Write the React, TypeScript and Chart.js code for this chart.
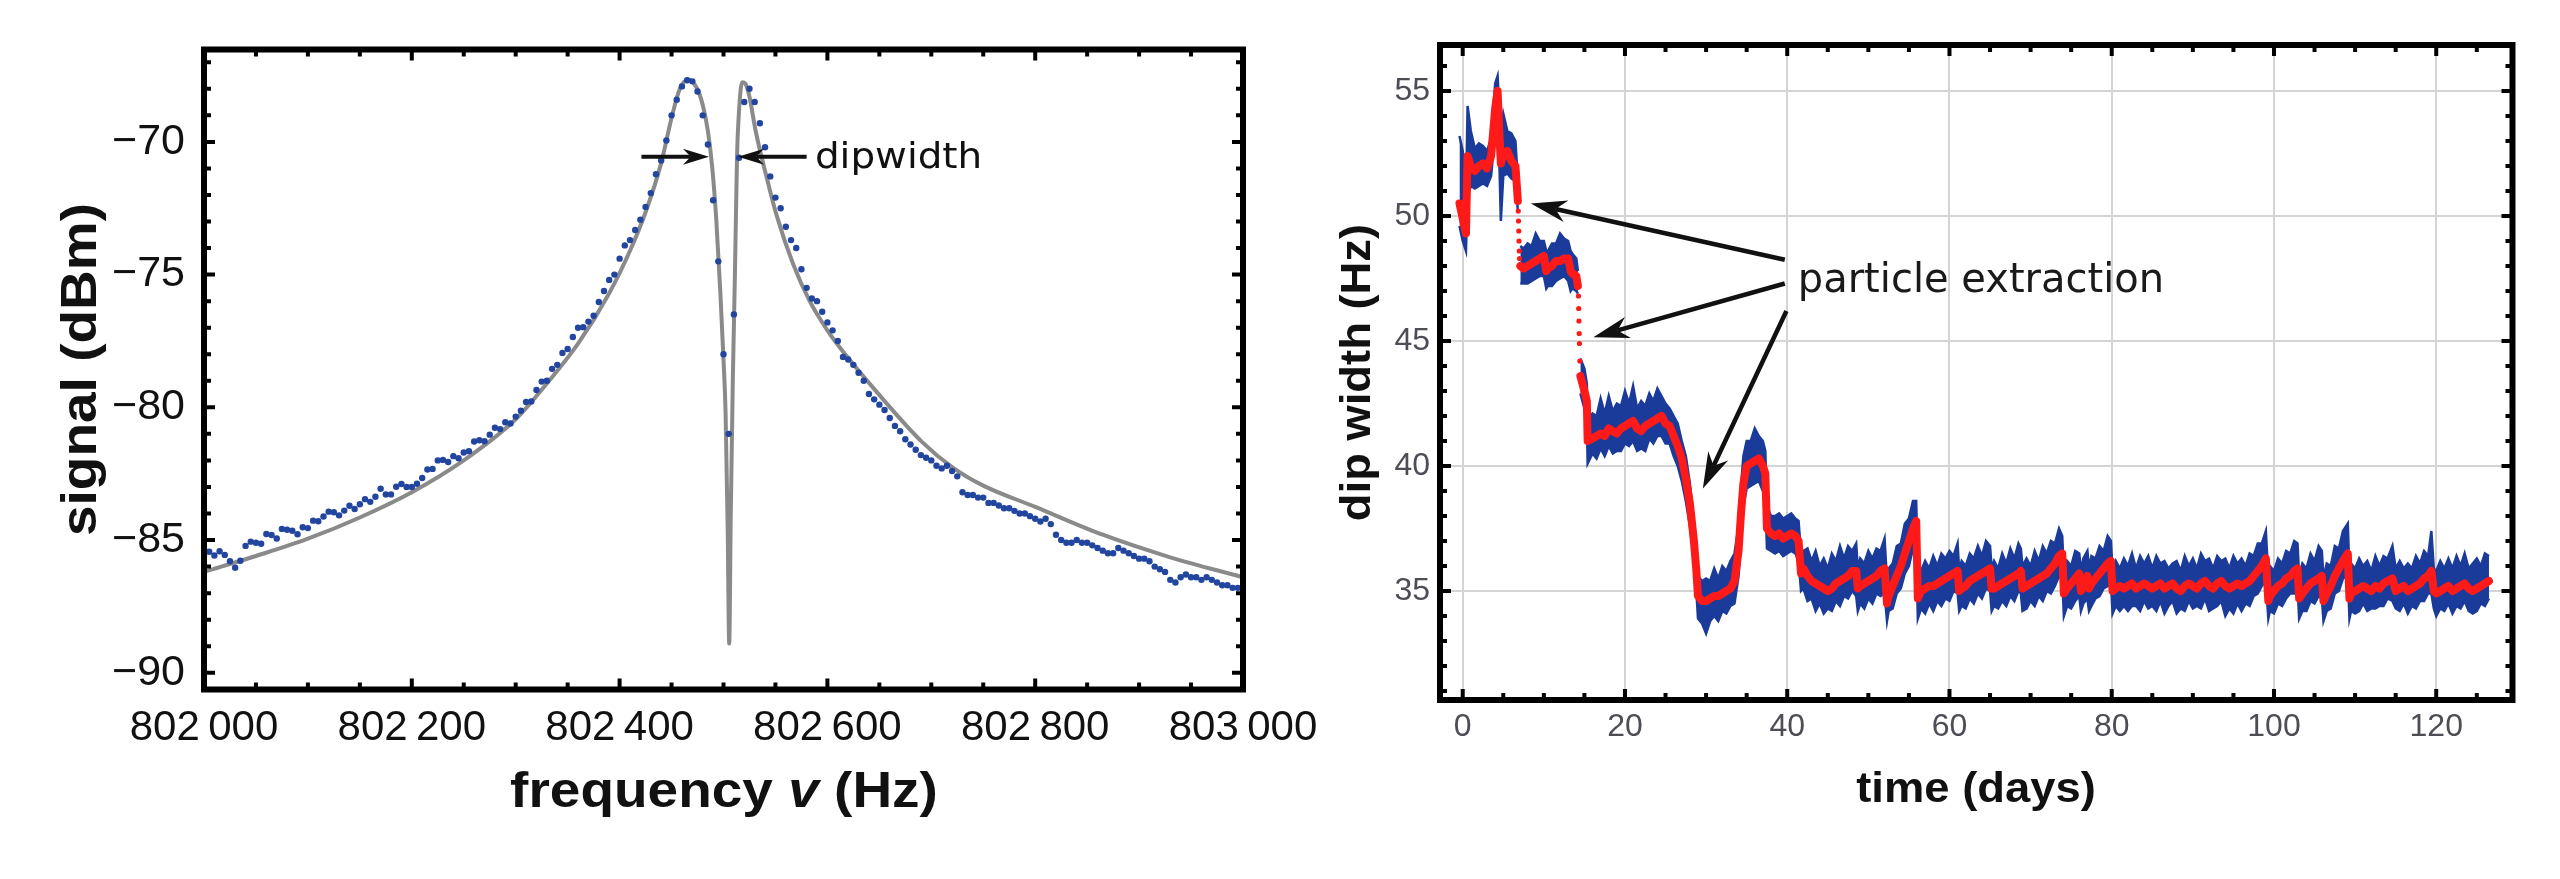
import React, { useEffect, useRef } from 'react';
import Chart from 'chart.js/auto';

const SANS = '"Liberation Sans", Arial, Helvetica, sans-serif';
const DEJAVU = '"DejaVu Sans", Verdana, sans-serif';

// ---------- left panel: resonance spectrum ----------
const sweepHz = [
  802000, 802005, 802010, 802015, 802020, 802025, 802030, 802035, 802040, 802045,
  802050, 802055, 802060, 802065, 802070, 802075, 802080, 802085, 802090, 802095,
  802100, 802105, 802110, 802115, 802120, 802125, 802130, 802135, 802140, 802145,
  802150, 802155, 802160, 802165, 802170, 802175, 802180, 802185, 802190, 802195,
  802200, 802205, 802210, 802215, 802220, 802225, 802230, 802235, 802240, 802245,
  802250, 802255, 802260, 802265, 802270, 802275, 802280, 802285, 802290, 802295,
  802300, 802305, 802310, 802315, 802320, 802325, 802330, 802335, 802340, 802345,
  802350, 802355, 802360, 802365, 802370, 802375, 802380, 802385, 802390, 802395,
  802400, 802405, 802410, 802415, 802420, 802425, 802430, 802435, 802440, 802445,
  802450, 802455, 802460, 802465, 802470, 802475, 802480, 802485, 802490, 802495,
  802500, 802505, 802510, 802515, 802520, 802525, 802530, 802535, 802540, 802545,
  802550, 802555, 802560, 802565, 802570, 802575, 802580, 802585, 802590, 802595,
  802600, 802605, 802610, 802615, 802620, 802625, 802630, 802635, 802640, 802645,
  802650, 802655, 802660, 802665, 802670, 802675, 802680, 802685, 802690, 802695,
  802700, 802705, 802710, 802715, 802720, 802725, 802730, 802735, 802740, 802745,
  802750, 802755, 802760, 802765, 802770, 802775, 802780, 802785, 802790, 802795,
  802800, 802805, 802810, 802815, 802820, 802825, 802830, 802835, 802840, 802845,
  802850, 802855, 802860, 802865, 802870, 802875, 802880, 802885, 802890, 802895,
  802900, 802905, 802910, 802915, 802920, 802925, 802930, 802935, 802940, 802945,
  802950, 802955, 802960, 802965, 802970, 802975, 802980, 802985, 802990, 802995,
  803000,
];
const sweepDbm = [
  -85.6, -85.44, -85.58, -85.42, -85.56, -85.8, -86.04, -85.78, -85.22, -85.06,
  -85.1, -85.14, -84.77, -84.81, -84.94, -84.58, -84.61, -84.65, -84.78, -84.52,
  -84.55, -84.27, -84.29, -84.11, -83.93, -83.95, -84.07, -83.89, -83.71, -83.83,
  -83.65, -83.46, -83.56, -83.37, -83.07, -83.28, -83.28, -82.99, -82.89, -83.0,
  -83.0, -82.88, -82.66, -82.34, -82.32, -82.0, -81.98, -82.06, -81.84, -81.92,
  -81.7, -81.65, -81.29, -81.24, -81.28, -81.03, -80.77, -80.82, -80.56, -80.61,
  -80.35, -80.13, -79.8, -79.78, -79.35, -79.03, -79.0, -78.55, -78.4, -77.95,
  -77.8, -77.35, -77.0, -76.98, -76.77, -76.55, -76.03, -75.62, -75.2, -75.0,
  -74.4, -73.9, -73.7, -73.32, -72.93, -72.45, -71.93, -71.22, -70.7, -69.95,
  -69.0, -68.41, -67.91, -67.68, -67.72, -68.1, -69.0, -70.1, -72.2, -74.5,
  -78.0, -81.0, -76.5, -70.6, -68.5, -68.0, -68.5, -69.3, -70.2, -71.3,
  -72.1, -72.5, -73.2, -73.7, -74.0, -74.8, -75.5, -75.9, -76.0, -76.4,
  -76.8, -77.1, -77.5, -78.1, -78.2, -78.4, -78.7, -79.0, -79.5, -79.7,
  -79.9, -80.1, -80.4, -80.7, -80.9, -81.2, -81.4, -81.6, -81.8, -81.9,
  -82.0, -82.2, -82.3, -82.2, -82.4, -82.6, -83.2, -83.3, -83.3, -83.4,
  -83.4, -83.6, -83.6, -83.7, -83.8, -83.8, -83.9, -84.0, -84.0, -84.1,
  -84.2, -84.3, -84.2, -84.4, -84.8, -85.0, -85.1, -85.1, -85.0, -85.1,
  -85.1, -85.2, -85.3, -85.4, -85.5, -85.5, -85.3, -85.4, -85.5, -85.6,
  -85.7, -85.7, -85.8, -86.0, -86.1, -86.2, -86.5, -86.6, -86.4, -86.3,
  -86.4, -86.4, -86.5, -86.4, -86.5, -86.6, -86.7, -86.7, -86.8, -86.8,
  -86.9,
];
const fitHz = [
  802000, 802050, 802100, 802150, 802200, 802250, 802300, 802330, 802360, 802390,
  802410, 802425, 802440, 802450, 802458, 802466, 802474, 802480, 802485, 802489,
  802493, 802497, 802500, 802502, 802504, 802505.5, 802507, 802509, 802511, 802513,
  802515, 802518, 802521, 802525, 802531, 802541, 802551, 802567, 802583, 802600,
  802615, 802647, 802691, 802720, 802750, 802800, 802865, 802930, 803000,
];
const fitDbm = [
  -86.2, -85.6, -84.95, -84.15, -83.2, -82.0, -80.45, -79.1, -77.6, -75.7,
  -74.1, -72.65, -70.8, -69.1, -68.0, -67.65, -67.95, -68.6, -69.6, -70.9,
  -72.9, -75.7, -78.2, -80.2, -84.5, -88.9, -84.0, -78.9, -75.0, -70.6,
  -68.8, -67.75, -67.8, -68.3, -69.6, -71.25, -72.75, -74.6, -76.0, -77.1,
  -77.9, -79.4, -81.3, -82.25, -82.95, -83.75, -84.8, -85.65, -86.4,
];
const freqTicks = [802000, 802200, 802400, 802600, 802800, 803000];
const signalTicks = [-90, -85, -80, -75, -70];

// "dipwidth" marker, data units
const dipArrowDbm = -70.56;
const dipArrowLeftHz = [802421, 802486];
const dipArrowRightHz = [802580, 802514];
const dipLabelHz = 802588;

// ---------- right panel: dip width over time ----------
const days = [
  -0.4, 0.0, 0.4, 0.6, 1.0, 1.5, 2.0, 2.5, 3.0, 3.5,
  4.0, 4.3, 4.5, 4.7, 5.0, 5.5, 6.0, 6.5, 6.8, 6.9,
  7.1, 7.5, 8.0, 8.5, 9.0, 9.5, 10.0, 10.3, 10.5, 11.0,
  11.5, 12.0, 12.5, 13.0, 13.3, 13.5, 14.0, 14.2, 14.35, 14.5,
  15.0, 15.3, 15.4, 16.0, 16.5, 17.0, 17.5, 18.0, 18.5, 19.0,
  19.5, 20.0, 20.5, 21.0, 21.5, 22.0, 22.5, 23.0, 23.5, 24.0,
  24.5, 25.0, 25.5, 26.0, 26.5, 27.0, 27.5, 28.0, 28.5, 28.8,
  29.0, 29.5, 30.0, 30.5, 31.0, 31.5, 32.0, 32.5, 33.0, 33.5,
  34.0, 34.3, 34.6, 35.0, 35.5, 36.0, 36.5, 37.0, 37.3, 37.5,
  38.0, 38.5, 39.0, 39.5, 40.0, 40.5, 41.0, 41.4, 41.7, 42.0,
  42.5, 43.0, 43.5, 44.0, 44.5, 45.0, 45.5, 46.0, 46.5, 47.0,
  47.5, 48.0, 48.5, 48.7, 49.0, 49.5, 50.0, 50.5, 51.0, 51.5,
  52.0, 52.3, 52.5, 53.0, 53.5, 54.0, 54.5, 55.0, 55.5, 55.9,
  56.1, 56.5, 57.0, 57.5, 58.0, 58.5, 59.0, 59.5, 60.0, 60.5,
  61.0, 61.2, 61.5, 62.0, 62.5, 63.0, 63.5, 64.0, 64.5, 65.0,
  65.2, 65.5, 66.0, 66.5, 67.0, 67.5, 68.0, 68.5, 68.8, 69.0,
  69.5, 70.0, 70.5, 71.0, 71.5, 72.0, 72.5, 73.0, 73.5, 73.9,
  74.1, 74.5, 75.0, 75.5, 76.0, 76.2, 76.5, 77.0, 77.2, 77.5,
  78.0, 78.5, 79.0, 79.5, 79.9, 80.1, 80.5, 81.0, 81.5, 82.0,
  82.5, 83.0, 83.5, 84.0, 84.5, 85.0, 85.5, 86.0, 86.5, 87.0,
  87.5, 88.0, 88.5, 89.0, 89.5, 90.0, 90.5, 91.0, 91.5, 92.0,
  92.5, 93.0, 93.5, 94.0, 94.5, 95.0, 95.5, 96.0, 96.5, 97.0,
  97.5, 98.0, 98.5, 99.0, 99.3, 99.5, 100.0, 100.5, 101.0, 101.5,
  102.0, 102.5, 102.9, 103.1, 103.5, 104.0, 104.5, 105.0, 105.5, 105.9,
  106.1, 106.5, 107.0, 107.5, 108.0, 108.5, 109.1, 109.3, 109.5, 110.0,
  110.5, 111.0, 111.5, 112.0, 112.5, 113.0, 113.5, 114.0, 114.6, 115.0,
  115.5, 116.0, 116.5, 117.0, 117.5, 118.0, 118.5, 119.0, 119.4, 119.7,
  120.0, 120.5, 121.0, 121.5, 122.0, 122.5, 123.0, 123.5, 124.0, 124.5,
  125.0, 125.5, 126.0, 126.5,
];
const dipMean = [
  50.5, 49.9, 49.3, 52.4, 52.0, 51.8, 52.0, 52.1, 51.9, 52.4,
  54.3, 55.0, 53.4, 52.1, 52.5, 52.6, 52.2, 52.0, 50.6, null,
  48.0, 47.9, 48.0, 48.1, 48.2, 48.3, 48.4, 47.8, 47.9, 48.0,
  48.2, 48.2, 48.3, 48.3, 47.8, 47.7, 47.6, 47.2, null, 43.6,
  43.0, 42.6, 41.0, 41.1, 41.2, 41.3, 41.2, 41.5, 41.4, 41.3,
  41.5, 41.6, 41.7, 41.8, 41.5, 41.4, 41.6, 41.7, 41.8, 41.9,
  42.0, 41.7, 41.6, 41.2, 40.8, 40.3, 39.5, 38.5, 37.0, 35.8,
  34.8, 34.6, 34.6, 34.7, 34.8, 34.8, 34.9, 35.0, 35.1, 35.4,
  36.6, 38.1, 39.3, 40.0, 40.1, 40.2, 40.3, 40.0, 39.7, 37.5,
  37.3, 37.2, 37.3, 37.1, 37.2, 37.3, 37.2, 37.0, 35.7, 35.9,
  35.6, 35.4, 35.3, 35.2, 35.1, 35.0, 35.1, 35.3, 35.4, 35.5,
  35.6, 35.8, 35.8, 35.1, 35.2, 35.3, 35.4, 35.5, 35.6, 35.8,
  35.9, 34.5, 34.8, 35.2, 35.6, 36.0, 36.5, 37.0, 37.5, 37.8,
  34.7, 35.0, 35.1, 35.2, 35.2, 35.3, 35.4, 35.5, 35.6, 35.7,
  35.8, 35.0, 35.1, 35.2, 35.4, 35.5, 35.6, 35.7, 35.8, 35.9,
  35.1, 35.1, 35.2, 35.3, 35.4, 35.5, 35.6, 35.7, 35.8, 35.1,
  35.2, 35.3, 35.4, 35.5, 35.6, 35.7, 35.9, 36.1, 36.4, 36.5,
  34.9, 35.1, 35.3, 35.5, 35.7, 35.0, 35.2, 35.6, 35.1, 35.3,
  35.5, 35.7, 35.9, 36.1, 36.2, 35.0, 35.1, 35.2, 35.1, 35.2,
  35.3, 35.1, 35.2, 35.3, 35.2, 35.1, 35.2, 35.3, 35.1, 35.2,
  35.3, 35.1, 35.0, 35.2, 35.3, 35.2, 35.1, 35.3, 35.4, 35.2,
  35.1, 35.3, 35.4, 35.2, 35.1, 35.2, 35.3, 35.2, 35.3, 35.4,
  35.6, 35.8, 36.0, 36.3, 34.6, 34.8, 35.0, 35.2, 35.3, 35.5,
  35.6, 35.8, 35.9, 34.7, 34.9, 35.1, 35.3, 35.4, 35.5, 35.6,
  34.6, 34.9, 35.2, 35.6, 35.9, 36.2, 36.5, 34.7, 34.9, 35.0,
  35.1, 35.2, 35.1, 35.0, 35.2, 35.1, 35.3, 35.4, 35.5, 35.0,
  35.1, 35.2, 35.0, 35.1, 35.2, 35.3, 35.5, 35.6, 35.8, 35.0,
  34.9, 35.0, 35.1, 35.2, 35.0, 35.1, 35.2, 35.3, 35.1, 35.0,
  35.1, 35.2, 35.3, 35.4,
];
const dipLow = [
  49.6, 49.0, 48.6, 50.8, 51.2, 51.1, 51.2, 51.3, 51.2, 51.6,
  53.4, 54.2, 52.4, 49.8, 51.6, 51.7, 51.5, 51.4, 50.2, null,
  47.3, 47.3, 47.3, 47.4, 47.5, 47.6, 47.6, 47.1, 47.2, 47.2,
  47.4, 47.5, 47.6, 47.4, 47.0, 47.1, 47.0, 46.9, null, 42.9,
  42.3, 41.9, 40.1, 40.5, 40.3, 40.7, 40.4, 40.8, 40.5, 40.6,
  40.6, 40.9, 40.8, 41.0, 40.6, 40.7, 40.6, 41.1, 40.9, 41.2,
  41.2, 40.9, 40.9, 40.4, 40.0, 39.4, 38.6, 37.6, 36.2, 35.0,
  33.9, 33.7, 33.3, 33.8, 34.0, 33.8, 34.2, 34.1, 34.4, 34.5,
  35.6, 37.0, 38.4, 39.1, 39.2, 39.3, 39.4, 39.0, 38.7, 36.7,
  36.6, 36.5, 36.6, 36.4, 36.5, 36.6, 36.5, 36.2, 35.0, 35.1,
  34.6, 34.7, 34.2, 34.5, 34.1, 34.3, 34.2, 34.6, 34.4, 34.8,
  34.7, 35.0, 34.8, 34.2, 34.5, 34.3, 34.7, 34.5, 34.9, 34.8,
  34.9, 33.8, 34.2, 34.3, 34.9, 35.1, 35.7, 36.0, 36.7, 36.8,
  33.9, 34.3, 34.1, 34.5, 34.2, 34.6, 34.4, 34.7, 34.6, 35.0,
  34.9, 34.2, 34.4, 34.3, 34.7, 34.5, 34.9, 34.7, 35.1, 35.0,
  34.2, 34.4, 34.3, 34.6, 34.4, 34.8, 34.6, 35.0, 34.9, 34.2,
  34.3, 34.6, 34.4, 34.8, 34.6, 35.0, 34.9, 35.2, 35.6, 35.5,
  34.0, 34.4, 34.3, 34.6, 34.8, 34.2, 34.5, 34.7, 34.2, 34.4,
  34.7, 34.8, 35.1, 35.2, 35.4, 34.1, 34.4, 34.2, 34.4, 34.2,
  34.4, 34.4, 34.2, 34.6, 34.3, 34.4, 34.2, 34.6, 34.1, 34.4,
  34.6, 34.1, 34.3, 34.2, 34.6, 34.3, 34.4, 34.3, 34.7, 34.2,
  34.3, 34.4, 34.6, 34.0, 34.3, 34.1, 34.5, 34.2, 34.5, 34.4,
  34.8, 34.9, 35.2, 35.4, 33.9, 34.2, 34.1, 34.5, 34.4, 34.7,
  34.9, 34.9, 35.2, 33.9, 34.2, 34.2, 34.6, 34.5, 34.8, 34.7,
  33.8, 34.2, 34.3, 34.9, 35.0, 35.5, 35.6, 33.9, 34.2, 34.1,
  34.2, 34.5, 34.2, 34.3, 34.3, 34.4, 34.4, 34.7, 34.6, 34.3,
  34.2, 34.5, 34.1, 34.4, 34.3, 34.6, 34.6, 34.9, 34.9, 34.3,
  34.0, 34.3, 34.2, 34.5, 34.1, 34.4, 34.3, 34.6, 34.2, 34.1,
  34.2, 34.5, 34.4, 34.7,
];
const dipHigh = [
  53.2, 52.6, 50.6, 54.4, 53.4, 52.7, 52.9, 52.8, 52.6, 53.1,
  55.3, 55.6, 54.4, 53.4, 54.1, 53.4, 53.3, 53.0, 51.4, null,
  48.8, 48.7, 48.9, 48.8, 49.3, 49.0, 49.0, 48.6, 48.6, 48.9,
  48.9, 49.3, 49.1, 49.0, 48.6, 48.5, 48.3, 47.8, null, 44.3,
  43.9, 43.3, 41.8, 42.1, 42.0, 42.7, 42.1, 42.8, 42.2, 42.5,
  42.4, 43.0, 42.5, 43.2, 42.3, 42.6, 42.4, 42.9, 42.6, 43.1,
  42.8, 42.5, 42.3, 42.0, 41.7, 41.0, 40.4, 39.3, 37.8, 36.7,
  35.6, 35.4, 35.5, 35.4, 35.9, 35.5, 36.0, 35.8, 36.2, 36.5,
  37.6, 39.2, 40.4, 41.0, 41.0, 41.5, 41.2, 41.0, 40.6, 38.4,
  38.0, 38.0, 38.1, 37.9, 38.0, 38.1, 37.9, 37.8, 36.5, 36.6,
  36.7, 36.2, 36.6, 36.0, 36.3, 35.9, 36.5, 36.2, 36.8, 36.3,
  36.8, 36.6, 36.9, 35.9, 36.3, 36.1, 36.6, 36.3, 36.7, 36.6,
  37.1, 35.4, 35.9, 36.1, 36.8, 36.9, 37.7, 37.9, 38.6, 38.6,
  35.8, 35.8, 36.2, 35.9, 36.4, 36.0, 36.5, 36.3, 36.6, 36.4,
  36.9, 35.8, 36.2, 36.0, 36.5, 36.3, 36.8, 36.4, 37.0, 36.8,
  35.9, 36.2, 35.9, 36.5, 36.1, 36.7, 36.3, 36.9, 36.7, 36.0,
  36.3, 36.0, 36.6, 36.2, 36.8, 36.5, 37.0, 36.9, 37.5, 37.2,
  35.7, 36.2, 36.0, 36.6, 36.5, 35.8, 36.3, 36.6, 35.9, 36.4,
  36.3, 36.8, 36.6, 37.2, 37.0, 35.8, 36.2, 35.9, 36.3, 36.0,
  36.5, 35.9, 36.4, 36.1, 36.4, 35.9, 36.4, 36.1, 36.2, 35.9,
  36.1, 36.2, 35.8, 36.4, 36.0, 36.3, 35.9, 36.5, 36.2, 36.3,
  35.9, 36.4, 36.2, 36.3, 35.9, 36.4, 36.1, 36.3, 36.0, 36.5,
  36.4, 36.9, 36.9, 37.4, 35.5, 36.0, 35.8, 36.3, 36.1, 36.6,
  36.5, 37.0, 36.9, 35.6, 36.1, 35.9, 36.5, 36.2, 36.8, 36.6,
  35.5, 36.1, 36.0, 36.8, 36.7, 37.4, 37.7, 35.7, 36.1, 35.9,
  36.3, 36.0, 36.2, 35.8, 36.4, 36.0, 36.4, 36.3, 36.8, 35.9,
  36.2, 35.9, 36.1, 35.9, 36.4, 36.1, 36.6, 36.4, 37.4, 35.9,
  35.8, 36.2, 35.9, 36.3, 35.9, 36.4, 36.0, 36.5, 35.9, 36.1,
  36.3, 36.0, 36.5, 36.4,
];
// sparse points recorded while a particle was being extracted
const jumpDays = [6.85, 6.88, 6.91, 6.94, 6.97, 7.0, 14.27, 14.3, 14.33, 14.36, 14.39, 14.44];
const jumpWidth = [50.2, 49.8, 49.4, 49.0, 48.6, 48.3, 46.8, 46.3, 45.8, 45.3, 44.9, 44.2];
const dayTicks = [0, 20, 40, 60, 80, 100, 120];
const widthTicks = [35, 40, 45, 50, 55];

// "particle extraction" arrows, data units [day, Hz]
const extractionTails = [[39.7, 48.25], [39.7, 47.3], [39.9, 46.2]];
const extractionTips = [[8.4, 50.5], [16.1, 45.15], [29.6, 39.1]];
const extractionLabel = [41.3, 46.96];

function drawArrow(ctx: any, x1: number, y1: number, x2: number, y2: number, w: number, headLen: number, headHalf: number) {
  const len = Math.hypot(x2 - x1, y2 - y1);
  const ux = (x2 - x1) / len, uy = (y2 - y1) / len;
  const nx = -uy, ny = ux;
  const bx = x2 - ux * headLen, by = y2 - uy * headLen;
  const mx = x2 - ux * headLen * 0.7, my = y2 - uy * headLen * 0.7;
  ctx.lineWidth = w;
  ctx.beginPath();
  ctx.moveTo(x1, y1);
  ctx.lineTo(mx, my);
  ctx.stroke();
  ctx.beginPath();
  ctx.moveTo(x2, y2);
  ctx.lineTo(bx + nx * headHalf, by + ny * headHalf);
  ctx.lineTo(mx, my);
  ctx.lineTo(bx - nx * headHalf, by - ny * headHalf);
  ctx.closePath();
  ctx.fill();
}

function drawTitle(ctx: any, parts: { text: string; italic?: boolean }[], x: number, y: number, size: number, rotate: boolean, stretch: number) {
  ctx.save();
  ctx.translate(x, y);
  if (rotate) ctx.rotate(-Math.PI / 2);
  ctx.scale(stretch, 1);
  ctx.fillStyle = '#111';
  ctx.textAlign = 'left';
  ctx.textBaseline = rotate ? 'middle' : 'alphabetic';
  const fonts = parts.map(p => `${p.italic ? 'italic ' : ''}bold ${size}px ${SANS}`);
  const widths = parts.map((p, i) => {
    ctx.font = fonts[i];
    return ctx.measureText(p.text).width;
  });
  let cx = -widths.reduce((a, b) => a + b, 0) / 2;
  parts.forEach((p, i) => {
    ctx.font = fonts[i];
    ctx.fillText(p.text, cx, 0);
    cx += widths[i];
  });
  ctx.restore();
}

// Mathematica-like frame: thick box with inward ticks on all four sides
function frameTicks(xMinor: number, yMinor: number) {
  return {
    id: 'frameTicks',
    afterDraw(chart: any) {
      const { ctx, chartArea: a } = chart;
      const sx = chart.scales.x, sy = chart.scales.y;
      const isMajor = (s: any, v: number) => s.ticks.some((t: any) => Math.abs(t.value - v) < 1e-6);
      ctx.save();
      ctx.strokeStyle = '#000';
      ctx.lineWidth = 4;
      ctx.beginPath();
      for (let v = Math.ceil(sx.min / xMinor) * xMinor; v <= sx.max + 1e-9; v += xMinor) {
        const px = sx.getPixelForValue(v);
        const l = isMajor(sx, v) ? 11 : 7;
        ctx.moveTo(px, a.bottom); ctx.lineTo(px, a.bottom - l);
        ctx.moveTo(px, a.top); ctx.lineTo(px, a.top + l);
      }
      for (let v = Math.ceil(sy.min / yMinor) * yMinor; v <= sy.max + 1e-9; v += yMinor) {
        const py = sy.getPixelForValue(v);
        const l = isMajor(sy, v) ? 11 : 7;
        ctx.moveTo(a.left, py); ctx.lineTo(a.left + l, py);
        ctx.moveTo(a.right, py); ctx.lineTo(a.right - l, py);
      }
      ctx.stroke();
      ctx.lineWidth = 6;
      ctx.strokeRect(a.left, a.top, a.right - a.left, a.bottom - a.top);
      ctx.restore();
    },
  };
}

const spectrumLabels = {
  id: 'spectrumLabels',
  afterDraw(chart: any) {
    const { ctx } = chart;
    const sx = chart.scales.x, sy = chart.scales.y;
    const y = sy.getPixelForValue(dipArrowDbm);
    ctx.save();
    ctx.strokeStyle = '#111';
    ctx.fillStyle = '#111';
    drawArrow(ctx, sx.getPixelForValue(dipArrowLeftHz[0]), y, sx.getPixelForValue(dipArrowLeftHz[1]), y, 4, 26, 8);
    drawArrow(ctx, sx.getPixelForValue(dipArrowRightHz[0]), y, sx.getPixelForValue(dipArrowRightHz[1]), y, 4, 26, 8);
    ctx.translate(sx.getPixelForValue(dipLabelHz), y + 11);
    ctx.scale(1.08, 1);
    ctx.font = `36px ${DEJAVU}`;
    ctx.textBaseline = 'alphabetic';
    ctx.fillText('dipwidth', 0, 0);
    ctx.restore();
    drawTitle(ctx, [{ text: 'signal (dBm)' }], 82, 369.5, 50, true, 1.1);
    drawTitle(ctx, [{ text: 'frequency ' }, { text: 'v', italic: true }, { text: ' (Hz)' }], 724, 807, 50, false, 1.1);
  },
};

const dipLabels = {
  id: 'dipLabels',
  afterDraw(chart: any) {
    const { ctx } = chart;
    const sx = chart.scales.x, sy = chart.scales.y;
    ctx.save();
    ctx.strokeStyle = '#111';
    ctx.fillStyle = '#111';
    extractionTails.forEach((t, i) => {
      const tip = extractionTips[i];
      drawArrow(ctx, sx.getPixelForValue(t[0]), sy.getPixelForValue(t[1]), sx.getPixelForValue(tip[0]), sy.getPixelForValue(tip[1]), 4.5, 36, 11);
    });
    ctx.font = `40px ${DEJAVU}`;
    ctx.textBaseline = 'alphabetic';
    ctx.fillStyle = '#1a1a1a';
    ctx.fillText('particle extraction', sx.getPixelForValue(extractionLabel[0]), sy.getPixelForValue(extractionLabel[1]));
    ctx.restore();
    drawTitle(ctx, [{ text: 'dip width (Hz)' }], 58, 372.5, 42, true, 1.08);
    drawTitle(ctx, [{ text: 'time (days)' }], 676, 802, 42, false, 1.08);
  },
};

const withThinSpace = (v: number) => String(v).replace(/(\d{3})(\d{3})$/, '$1\u2009$2');
const minusSign = (v: number) => (v < 0 ? '\u2212' + Math.abs(v) : String(v));

function SpectrumChart() {
  const canvasRef = useRef<HTMLCanvasElement>(null);
  useEffect(() => {
    if (!canvasRef.current) return;
    const chart = new Chart(canvasRef.current, {
      type: 'line',
      data: {
        datasets: [
          {
            data: sweepHz.map((x, i) => ({ x, y: sweepDbm[i] })),
            showLine: false,
            pointRadius: 3.2,
            pointBackgroundColor: '#22469f',
            pointBorderWidth: 0,
          },
          {
            data: fitHz.map((x, i) => ({ x, y: fitDbm[i] })),
            borderColor: '#8a8a8a',
            borderWidth: 4,
            pointRadius: 0,
            cubicInterpolationMode: 'monotone',
          },
        ],
      } as any,
      options: {
        animation: false,
        responsive: true,
        maintainAspectRatio: false,
        events: [],
        layout: { padding: { left: 0, top: 49.5, right: 87, bottom: 89.5 } },
        plugins: { legend: { display: false }, tooltip: { enabled: false } },
        scales: {
          x: {
            type: 'linear',
            min: 802000,
            max: 803000,
            grid: { display: false },
            border: { display: false },
            ticks: {
              color: '#111',
              font: { family: SANS, size: 42, lineHeight: 1 },
              padding: 10,
              maxRotation: 0,
              autoSkip: false,
              callback: (v: any) => withThinSpace(v),
            },
            afterBuildTicks: (s: any) => { s.ticks = freqTicks.map(value => ({ value })); },
            afterFit: (s: any) => { s.height = 100; },
          },
          y: {
            type: 'linear',
            min: -90.63,
            max: -66.52,
            grid: { display: false },
            border: { display: false },
            ticks: {
              color: '#111',
              font: { family: SANS, size: 43, lineHeight: 1 },
              padding: 11,
              callback: (v: any) => minusSign(v),
            },
            afterBuildTicks: (s: any) => { s.ticks = signalTicks.map(value => ({ value })); },
            afterFit: (s: any) => { s.width = 204; },
          },
        },
      } as any,
      plugins: [frameTicks(50, 1), spectrumLabels],
    });
    return () => chart.destroy();
  }, []);
  return <canvas ref={canvasRef} />;
}

function DipWidthChart() {
  const canvasRef = useRef<HTMLCanvasElement>(null);
  useEffect(() => {
    if (!canvasRef.current) return;
    const blue = '#1b3b9b';
    const chart = new Chart(canvasRef.current, {
      type: 'line',
      data: {
        datasets: [
          {
            data: jumpDays.map((x, i) => ({ x, y: jumpWidth[i] })),
            showLine: false,
            pointRadius: 2.6,
            pointBackgroundColor: '#ff1a1a',
            pointBorderWidth: 0,
          },
          {
            data: days.map((x, i) => ({ x, y: dipMean[i] })),
            borderColor: '#ff1a1a',
            borderWidth: 8,
            borderJoinStyle: 'round',
            borderCapStyle: 'round',
            pointRadius: 0,
            spanGaps: false,
          },
          {
            data: days.map((x, i) => ({ x, y: dipHigh[i] })),
            borderColor: blue,
            borderWidth: 2.5,
            pointRadius: 0,
            spanGaps: false,
            fill: false,
          },
          {
            data: days.map((x, i) => ({ x, y: dipLow[i] })),
            borderColor: blue,
            backgroundColor: blue,
            borderWidth: 2.5,
            pointRadius: 0,
            spanGaps: false,
            fill: '-1',
          },
        ],
      } as any,
      options: {
        animation: false,
        responsive: true,
        maintainAspectRatio: false,
        events: [],
        layout: { padding: { left: 0, top: 45, right: 47.5, bottom: 79 } },
        plugins: { legend: { display: false }, tooltip: { enabled: false } },
        scales: {
          x: {
            type: 'linear',
            min: -2.8,
            max: 129.4,
            grid: { color: '#d4d4d4', lineWidth: 2, drawTicks: false },
            border: { display: false },
            ticks: {
              color: '#4d4d55',
              font: { family: SANS, size: 32, lineHeight: 1 },
              padding: 11,
              maxRotation: 0,
              autoSkip: false,
            },
            afterBuildTicks: (s: any) => { s.ticks = dayTicks.map(value => ({ value })); },
            afterFit: (s: any) => { s.height = 100; },
          },
          y: {
            type: 'linear',
            min: 30.64,
            max: 56.84,
            grid: { color: '#d4d4d4', lineWidth: 2, drawTicks: false },
            border: { display: false },
            ticks: {
              color: '#4d4d55',
              font: { family: SANS, size: 32, lineHeight: 1 },
              padding: 10,
            },
            afterBuildTicks: (s: any) => { s.ticks = widthTicks.map(value => ({ value })); },
            afterFit: (s: any) => { s.width = 140; },
          },
        },
      } as any,
      plugins: [frameTicks(5, 1), dipLabels],
    });
    return () => chart.destroy();
  }, []);
  return <canvas ref={canvasRef} />;
}

export default function App() {
  return (
    <div style={{ position: 'absolute', left: 0, top: 0, width: 2560, height: 879, background: '#fff' }}>
      <div style={{ position: 'absolute', left: 0, top: 0, width: 1330, height: 879 }}>
        <SpectrumChart />
      </div>
      <div style={{ position: 'absolute', left: 1300, top: 0, width: 1260, height: 879 }}>
        <DipWidthChart />
      </div>
    </div>
  );
}
